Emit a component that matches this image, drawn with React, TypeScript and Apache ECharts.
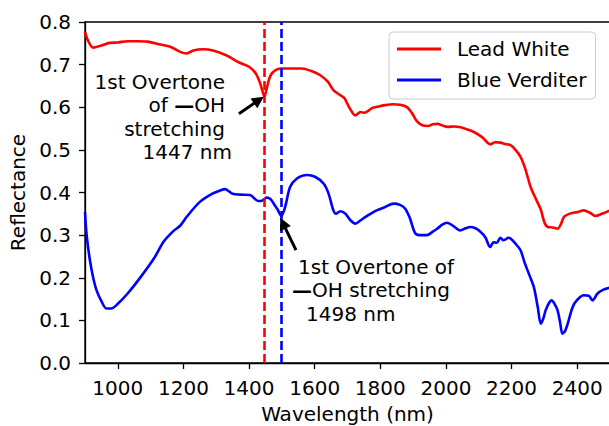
import { useEffect, useRef } from 'react';
import * as echarts from 'echarts';

const seriesNames = ['Lead White', 'Blue Verditer'];
const seriesColors = ['#ff0000', '#0000ff'];

const leadX = [900, 910, 925, 950, 975, 1000, 1030, 1060, 1090, 1130, 1160, 1190, 1210, 1230, 1260, 1290, 1330, 1370, 1400, 1420, 1433, 1440, 1447, 1454, 1462, 1470, 1485, 1500, 1530, 1560, 1590, 1617, 1640, 1657, 1675, 1690, 1705, 1724, 1740, 1750, 1760, 1775, 1790, 1815, 1840, 1860, 1880, 1895, 1912, 1930, 1945, 1960, 1975, 1990, 2005, 2025, 2045, 2065, 2085, 2110, 2135, 2150, 2166, 2180, 2197, 2212, 2227, 2242, 2258, 2274, 2289, 2300, 2310, 2325, 2340, 2350, 2360, 2380, 2400, 2420, 2440, 2455, 2475, 2500];
const leadY = [0.777, 0.755, 0.740, 0.745, 0.751, 0.752, 0.755, 0.755, 0.754, 0.747, 0.742, 0.730, 0.726, 0.733, 0.736, 0.733, 0.722, 0.705, 0.695, 0.680, 0.658, 0.640, 0.625, 0.645, 0.668, 0.680, 0.689, 0.691, 0.691, 0.691, 0.685, 0.675, 0.660, 0.640, 0.630, 0.622, 0.600, 0.581, 0.589, 0.587, 0.590, 0.598, 0.601, 0.605, 0.607, 0.606, 0.601, 0.588, 0.567, 0.557, 0.556, 0.560, 0.561, 0.557, 0.554, 0.555, 0.553, 0.548, 0.542, 0.530, 0.513, 0.518, 0.517, 0.514, 0.511, 0.500, 0.484, 0.455, 0.413, 0.385, 0.360, 0.330, 0.319, 0.318, 0.315, 0.325, 0.343, 0.351, 0.354, 0.358, 0.352, 0.345, 0.350, 0.358];

const blueX = [900, 905, 915, 925, 935, 950, 965, 980, 1000, 1030, 1070, 1110, 1140, 1170, 1190, 1210, 1250, 1290, 1310, 1327, 1340, 1350, 1372, 1403, 1428, 1440, 1454, 1465, 1475, 1487, 1498, 1510, 1525, 1546, 1576, 1601, 1627, 1642, 1657, 1665, 1678, 1694, 1709, 1724, 1740, 1755, 1770, 1789, 1815, 1840, 1860, 1876, 1890, 1907, 1925, 1942, 1960, 1973, 1990, 2003, 2025, 2044, 2060, 2074, 2090, 2105, 2120, 2135, 2145, 2155, 2166, 2175, 2182, 2190, 2197, 2212, 2227, 2240, 2255, 2268, 2280, 2289, 2297, 2304, 2315, 2322, 2330, 2340, 2348, 2355, 2363, 2371, 2386, 2400, 2420, 2435, 2447, 2462, 2480, 2500];
const blueY = [0.354, 0.300, 0.241, 0.200, 0.171, 0.145, 0.128, 0.128, 0.139, 0.163, 0.202, 0.245, 0.285, 0.310, 0.322, 0.343, 0.378, 0.398, 0.404, 0.408, 0.402, 0.397, 0.395, 0.394, 0.380, 0.381, 0.388, 0.385, 0.374, 0.360, 0.345, 0.366, 0.413, 0.433, 0.441, 0.437, 0.421, 0.398, 0.358, 0.350, 0.356, 0.350, 0.335, 0.327, 0.335, 0.343, 0.350, 0.358, 0.366, 0.374, 0.371, 0.362, 0.340, 0.304, 0.300, 0.300, 0.308, 0.315, 0.325, 0.329, 0.320, 0.311, 0.316, 0.319, 0.316, 0.308, 0.295, 0.272, 0.283, 0.282, 0.294, 0.288, 0.290, 0.294, 0.292, 0.280, 0.265, 0.235, 0.205, 0.178, 0.130, 0.092, 0.105, 0.124, 0.142, 0.147, 0.140, 0.124, 0.095, 0.069, 0.075, 0.092, 0.131, 0.148, 0.159, 0.158, 0.147, 0.163, 0.172, 0.177];

const xTicks = [1000, 1200, 1400, 1600, 1800, 2000, 2200, 2400];
const peakWavelengths = [1447, 1498];
// arrow [tail, head] in data units
const leadArrow = [[1369, 0.585], [1430, 0.617]];
const blueArrow = [[1543, 0.265], [1503, 0.328]];
const leadNote = ['1st Overtone', 'of {d|—}OH', 'stretching', '1447 nm'];
const blueNote = ['1st Overtone of', '{d|—}OH stretching', '1498 nm'];

const FONT = 'DejaVu Sans';

export default function App() {
  const ref = useRef<HTMLDivElement>(null);
  useEffect(() => {
    const chart = echarts.init(ref.current!, null, { renderer: 'svg' });
    const pair = (xs: number[], ys: number[]) => xs.map((x, i) => [x, ys[i]]);
    const noteText = (text: string, x: number, y: number, align: string) => ({
      type: 'text',
      x,
      y,
      z: 100,
      style: {
        text,
        fill: '#000',
        fontSize: 20,
        fontFamily: FONT,
        align,
        verticalAlign: 'middle',
        rich: { d: { fontSize: 20, fontFamily: FONT, fontWeight: 'bold', fill: '#000' } },
      },
    });
    const leadRight = [225, 225, 225, 232];
    const leadYs = [82, 105, 128.5, 152];
    const blueLeft = [298, 292, 306];
    const blueYs = [266.5, 290, 313.5];
    const graphics: any[] = [];
    leadNote.forEach((t, i) => graphics.push(noteText(t, leadRight[i], leadYs[i], 'right')));
    blueNote.forEach((t, i) => graphics.push(noteText(t, blueLeft[i], blueYs[i], 'left')));

    const option: any = {
      animation: false,
      backgroundColor: '#fff',
      textStyle: { fontFamily: FONT },
      grid: {
        left: 85,
        top: 22,
        right: -1,
        bottom: 63,
        show: true,
        containLabel: false,
        outerBoundsMode: 'none',
        borderColor: '#000',
        borderWidth: 1.3,
        backgroundColor: 'transparent',
      },
      legend: {
        orient: 'vertical',
        left: 389,
        top: 32,
        data: seriesNames,
        icon: 'rect',
        itemWidth: 44,
        itemHeight: 3,
        itemGap: 11,
        padding: [7, 9, 9, 8],
        backgroundColor: '#fff',
        borderColor: '#cccccc',
        borderWidth: 1,
        borderRadius: 4,
        textStyle: { fontSize: 20, fontFamily: FONT, color: '#000', padding: [0, 0, 0, 11] },
      },
      xAxis: {
        type: 'value',
        min: 900,
        max: 2500,
        name: 'Wavelength (nm)',
        nameLocation: 'middle',
        nameGap: 41,
        nameTextStyle: { fontSize: 20, lineHeight: 20, fontFamily: FONT, color: '#000' },
        axisLine: { show: true, lineStyle: { color: '#000', width: 1.3 } },
        axisTick: { show: true, length: 6, lineStyle: { color: '#000', width: 1.3 }, customValues: xTicks },
        axisLabel: {
          fontSize: 20,
          fontFamily: FONT,
          color: '#000',
          margin: 15,
          customValues: xTicks,
          formatter: (v: number) => String(v),
        },
        splitLine: { show: false },
      },
      yAxis: {
        type: 'value',
        min: 0,
        max: 0.8,
        interval: 0.1,
        name: 'Reflectance',
        nameLocation: 'middle',
        nameGap: 53,
        nameTextStyle: { fontSize: 20, fontFamily: FONT, color: '#000' },
        axisLine: { show: true, lineStyle: { color: '#000', width: 1.3 } },
        axisTick: { show: true, length: 6, lineStyle: { color: '#000', width: 1.3 } },
        axisLabel: {
          fontSize: 20,
          fontFamily: FONT,
          color: '#000',
          margin: 14,
          formatter: (v: number) => v.toFixed(1),
        },
        splitLine: { show: false },
      },
      series: [
        {
          name: seriesNames[0],
          type: 'line',
          data: pair(leadX, leadY),
          symbol: 'none',
          smooth: 0.3,
          lineStyle: { color: seriesColors[0], width: 2.6 },
          itemStyle: { color: seriesColors[0] },
          z: 3,
          markLine: {
            silent: true,
            symbol: 'none',
            label: { show: false },
            lineStyle: { color: seriesColors[0], width: 2.6, type: [9, 4] },
            data: [{ xAxis: peakWavelengths[0] }],
            z: 5,
          },
        },
        {
          name: seriesNames[1],
          type: 'line',
          data: pair(blueX, blueY),
          symbol: 'none',
          smooth: 0.3,
          lineStyle: { color: seriesColors[1], width: 2.6 },
          itemStyle: { color: seriesColors[1] },
          z: 3,
          markLine: {
            silent: true,
            symbol: 'none',
            label: { show: false },
            lineStyle: { color: seriesColors[1], width: 2.6, type: [9, 4] },
            data: [{ xAxis: peakWavelengths[1] }],
            z: 5,
          },
        },
        {
          type: 'line',
          data: [],
          silent: true,
          markLine: {
            silent: true,
            symbol: ['none', 'triangle'],
            symbolSize: [12, 12],
            label: { show: false },
            lineStyle: { color: '#000', width: 3, type: 'solid' },
            itemStyle: { color: '#000' },
            data: [
              [{ coord: leadArrow[0] }, { coord: leadArrow[1] }],
              [{ coord: blueArrow[0] }, { coord: blueArrow[1] }],
            ],
            z: 6,
          },
        },
      ],
      graphic: graphics,
    };
    chart.setOption(option);
    return () => chart.dispose();
  }, []);
  return <div ref={ref} style={{ position: 'fixed', left: 0, top: 0, width: 609, height: 426 }} />;
}
